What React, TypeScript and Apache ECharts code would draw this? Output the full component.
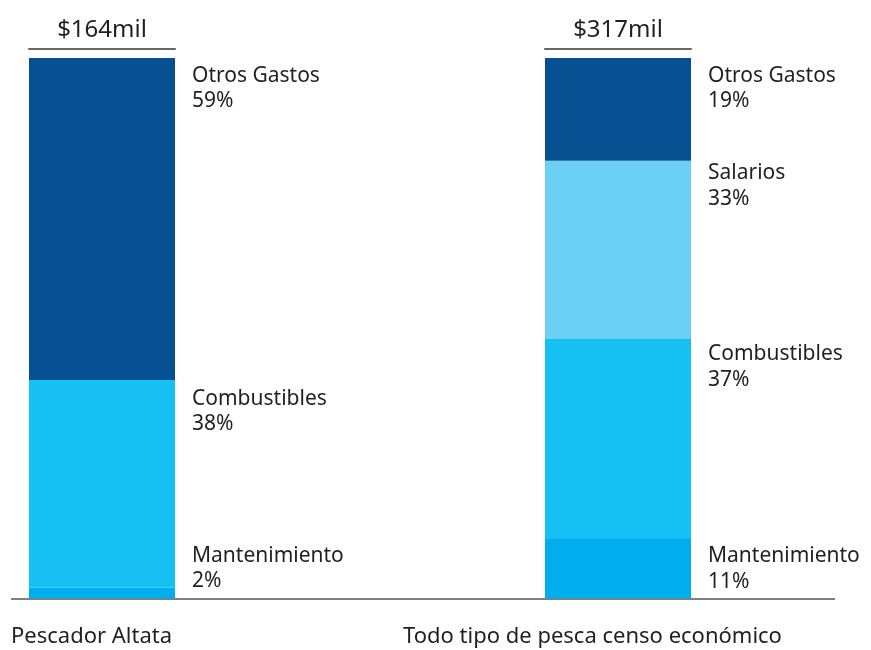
import React, { useEffect, useRef } from "react";
import * as echarts from "echarts";

const categories = ["Pescador Altata", "Todo tipo de pesca censo económico"];
const totals = ["$164mil", "$317mil"];
const segmentNames = ["Mantenimiento", "Combustibles", "Salarios", "Otros Gastos"];
const altataValues: (number | null)[] = [2, 38, null, 59];
const censoValues: (number | null)[] = [11, 37, 33, 19];

const segmentColors = ["#00aeef", "#16c0f2", "#6cd0f5", "#075092"];
// vertical nudge of each segment's label, relative to the segment top
const labelNudge = [
  [-46.5, 4, 0, 3],
  [2.5, 0.5, -2, 3],
];

const FONT = "'Noto Sans', 'Open Sans', sans-serif";
const TEXT = "#231f20";

export default function App() {
  const ref = useRef<HTMLDivElement>(null);
  useEffect(() => {
    if (!ref.current) return;
    const chart = echarts.init(ref.current, undefined, { renderer: "svg" });
    const groups = [altataValues, censoValues];
    const gridLefts = [29, 545];
    const grids = gridLefts.map((l) => ({ left: l, width: 146, top: 58, height: 540.5 }));
    const xAxes = groups.map((_, gi) => ({
      type: "category",
      gridIndex: gi,
      position: "top",
      offset: 9,
      data: [totals[gi]],
      axisLine: { show: true, onZero: false, lineStyle: { color: "#666", width: 2 } },
      axisTick: { show: false },
      axisLabel: { fontSize: 24, color: TEXT, fontFamily: FONT, margin: 10 },
    }));
    const yAxes = groups.map((vals, gi) => ({
      type: "value",
      gridIndex: gi,
      min: 0,
      max: vals.reduce((a: number, v) => a + (v ?? 0), 0),
      show: false,
    }));
    const series: any[] = [];
    groups.forEach((vals, gi) => {
      segmentNames.forEach((name, si) => {
        const v = vals[si];
        if (v == null) return;
        series.push({
          type: "bar",
          name,
          xAxisIndex: gi,
          yAxisIndex: gi,
          stack: "s" + gi,
          barWidth: "100%",
          data: [v],
          itemStyle: { color: segmentColors[si] },
          label: {
            show: true,
            position: ["100%", 0],
            offset: [17, labelNudge[gi][si]],
            align: "left",
            verticalAlign: "top",
            fontSize: 21,
            lineHeight: 25.5,
            color: TEXT,
            fontFamily: FONT,
            formatter: (p: any) => `${p.seriesName}\n${p.value}%`,
          },
        });
      });
    });
    chart.setOption({
      animation: false,
      textStyle: { fontFamily: FONT },
      grid: grids,
      xAxis: xAxes,
      yAxis: yAxes,
      series,
      graphic: [
        {
          type: "line",
          shape: { x1: 11, y1: 599, x2: 835, y2: 599 },
          style: { stroke: "#555", lineWidth: 1.5 },
        },
        ...categories.map((c, i) => ({
          type: "text",
          x: [11, 403][i],
          y: 634,
          style: {
            text: c,
            fontSize: 22,
            fill: TEXT,
            fontFamily: FONT,
            verticalAlign: "middle",
          },
        })),
      ],
    });
    return () => chart.dispose();
  }, []);
  return (
    <div
      ref={ref}
      style={{ position: "fixed", left: 0, top: 0, width: 871, height: 650 }}
    />
  );
}
